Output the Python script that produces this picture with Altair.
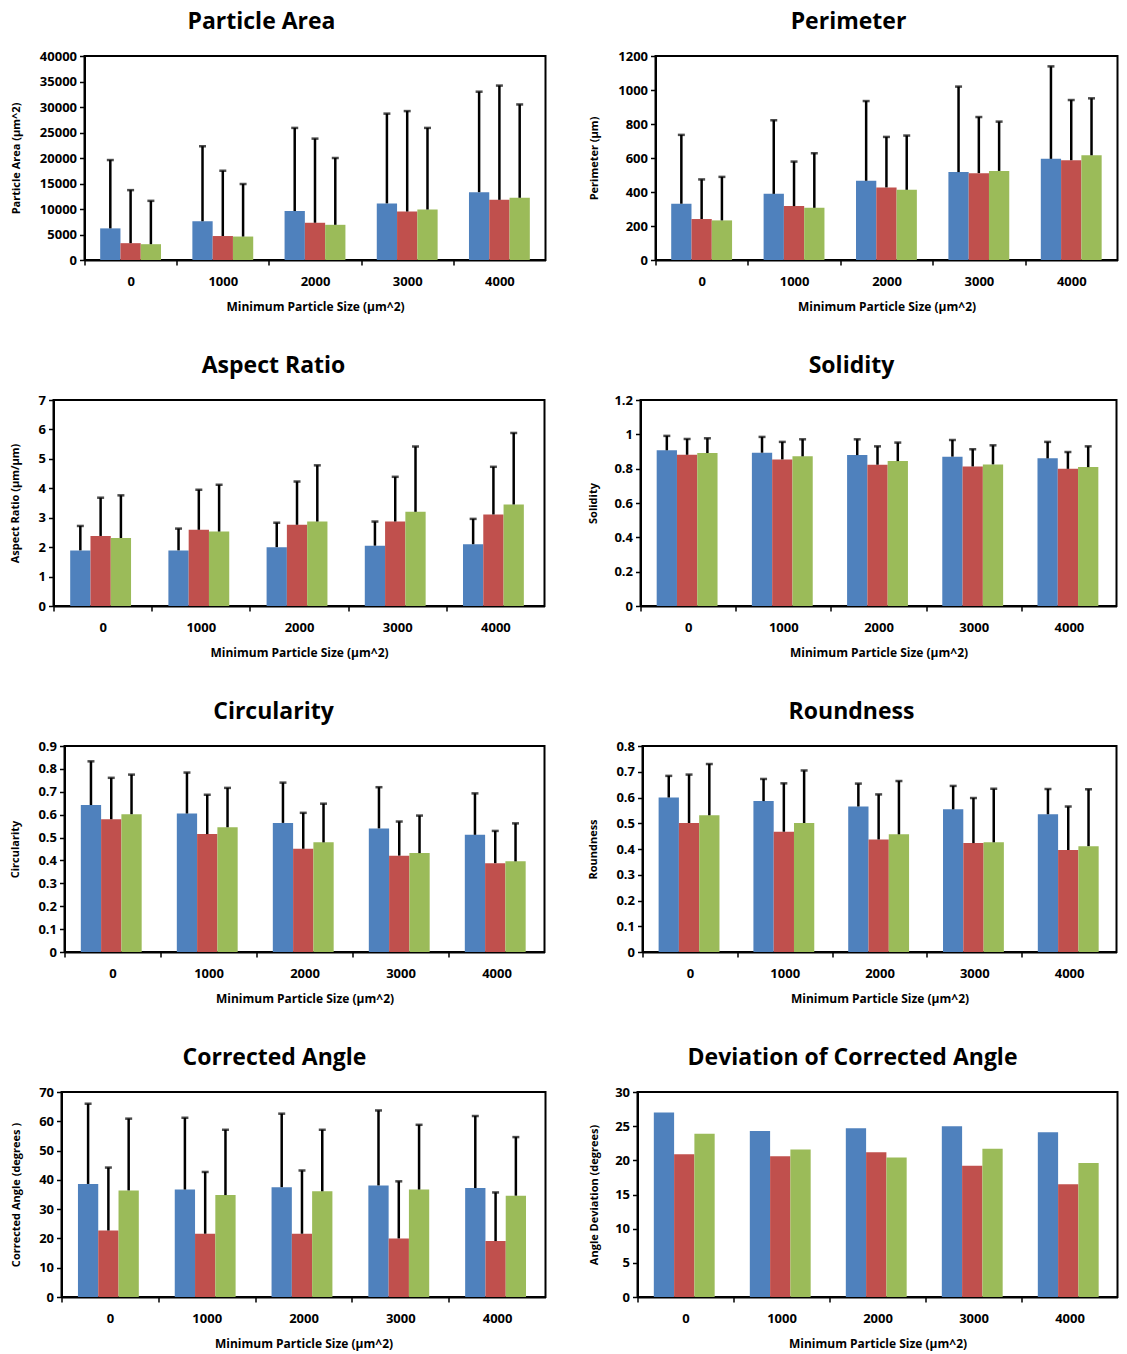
import altair as alt
import pandas as pd

CATEGORIES = ["0", "1000", "2000", "3000", "4000"]
SERIES = ["Series 1", "Series 2", "Series 3"]
SERIES_COLORS = ["#4F81BD", "#C0504D", "#9BBB59"]
X_TITLE = "Minimum Particle Size (µm^2)"

# ---- Particle Area ----
area_blue = [6200, 7600, 9600, 11100, 13300]
area_red = [3300, 4700, 7300, 9500, 11800]
area_green = [3100, 4600, 6900, 9900, 12200]
area_blue_sd = [13400, 14700, 16300, 17600, 19700]
area_red_sd = [10400, 12800, 16500, 19700, 22400]
area_green_sd = [8500, 10300, 13100, 16000, 18300]
area_ticks = [0, 5000, 10000, 15000, 20000, 25000, 30000, 35000, 40000]

# ---- Perimeter ----
perim_blue = [331, 389, 466, 517, 595]
perim_red = [241, 317, 427, 511, 587]
perim_green = [233, 307, 413, 524, 616]
perim_blue_sd = [405, 433, 469, 503, 544]
perim_red_sd = [233, 262, 297, 330, 354]
perim_green_sd = [256, 321, 319, 290, 335]
perim_ticks = [0, 200, 400, 600, 800, 1000, 1200]

# ---- Aspect Ratio ----
ar_blue = [1.89, 1.89, 2.0, 2.05, 2.1]
ar_red = [2.38, 2.59, 2.76, 2.87, 3.11]
ar_green = [2.31, 2.53, 2.87, 3.2, 3.45]
ar_blue_sd = [0.83, 0.74, 0.83, 0.82, 0.86]
ar_red_sd = [1.30, 1.36, 1.47, 1.52, 1.62]
ar_green_sd = [1.45, 1.59, 1.91, 2.22, 2.43]
ar_ticks = [0, 1, 2, 3, 4, 5, 6, 7]

# ---- Solidity ----
sol_blue = [0.907, 0.893, 0.879, 0.870, 0.860]
sol_red = [0.881, 0.854, 0.823, 0.813, 0.799]
sol_green = [0.891, 0.872, 0.844, 0.825, 0.809]
sol_blue_sd = [0.084, 0.092, 0.092, 0.097, 0.096]
sol_red_sd = [0.092, 0.102, 0.107, 0.100, 0.098]
sol_green_sd = [0.086, 0.099, 0.108, 0.111, 0.121]
sol_ticks = [0, 0.2, 0.4, 0.6, 0.8, 1, 1.2]

# ---- Circularity ----
circ_blue = [0.642, 0.605, 0.564, 0.540, 0.512]
circ_red = [0.580, 0.515, 0.451, 0.421, 0.388]
circ_green = [0.602, 0.545, 0.479, 0.432, 0.396]
circ_blue_sd = [0.191, 0.179, 0.176, 0.180, 0.181]
circ_red_sd = [0.181, 0.172, 0.157, 0.149, 0.141]
circ_green_sd = [0.173, 0.172, 0.169, 0.164, 0.166]
circ_ticks = [0, 0.1, 0.2, 0.3, 0.4, 0.5, 0.6, 0.7, 0.8, 0.9]

# ---- Roundness ----
round_blue = [0.600, 0.586, 0.565, 0.554, 0.535]
round_red = [0.501, 0.467, 0.437, 0.423, 0.396]
round_green = [0.531, 0.501, 0.457, 0.426, 0.411]
round_blue_sd = [0.084, 0.086, 0.089, 0.091, 0.098]
round_red_sd = [0.188, 0.188, 0.175, 0.175, 0.169]
round_green_sd = [0.199, 0.204, 0.207, 0.208, 0.221]
round_ticks = [0, 0.1, 0.2, 0.3, 0.4, 0.5, 0.6, 0.7, 0.8]

# ---- Corrected Angle ----
ang_blue = [38.6, 36.7, 37.5, 38.1, 37.2]
ang_red = [22.7, 21.6, 21.6, 20.0, 19.1]
ang_green = [36.4, 34.8, 36.1, 36.7, 34.6]
ang_blue_sd = [27.4, 24.5, 25.1, 25.6, 24.6]
ang_red_sd = [21.5, 21.1, 21.6, 19.5, 16.6]
ang_green_sd = [24.5, 22.3, 21.0, 22.1, 20.0]
ang_ticks = [0, 10, 20, 30, 40, 50, 60, 70]

# ---- Deviation of Corrected Angle ----
dev_blue = [27.0, 24.3, 24.7, 25.0, 24.1]
dev_red = [20.9, 20.6, 21.2, 19.2, 16.5]
dev_green = [23.9, 21.6, 20.4, 21.7, 19.6]
dev_ticks = [0, 5, 10, 15, 20, 25, 30]

FONT = "Open Sans"
HSPACE = 41
SPACER_W = 1


def make_panel(title, ytitle, means, sds, ticks, plot_left, width, height,
               title_center, ytitle_x):
    rows = []
    for si, s in enumerate(SERIES):
        for ci, c in enumerate(CATEGORIES):
            r = {"category": c, "series": s, "mean": means[si][ci]}
            if sds is not None:
                r["upper"] = means[si][ci] + sds[si][ci]
            rows.append(r)
    df = pd.DataFrame(rows)

    step = width / len(CATEGORIES)
    yscale = alt.Scale(domain=[ticks[0], ticks[-1]], nice=False, zero=True)
    yaxis = alt.Axis(
        values=ticks, format="~r", grid=False,
        tickSize=5, tickWidth=1.5, tickColor="black",
        domainColor="black", domainWidth=2,
        labelFont=FONT, labelFontSize=13, labelFontWeight="bold",
        labelColor="black", labelPadding=3,
        title=ytitle, titleFont=FONT, titleFontSize=11,
        titleFontWeight="bold", titleColor="black",
        titleX=ytitle_x - plot_left, titleY=height / 2,
        titleBaseline="middle",
    )
    xaxis = alt.Axis(
        title=X_TITLE, labelAngle=0,
        tickOffset=-step / 2, labelOffset=step / 2,
        tickSize=5, tickWidth=1.5, tickColor="black",
        domainColor="black", domainWidth=2,
        labelFont=FONT, labelFontSize=13, labelFontWeight="bold",
        labelColor="black", labelPadding=10,
        titleFont=FONT, titleFontSize=12, titleFontWeight="bold",
        titleColor="black", titlePadding=13,
    )
    x = alt.X("category:N", sort=CATEGORIES,
              scale=alt.Scale(domain=CATEGORIES, paddingInner=0.34,
                              paddingOuter=0.17),
              axis=xaxis)
    xo = alt.XOffset("series:N", sort=SERIES,
                     scale=alt.Scale(domain=SERIES, paddingInner=0,
                                     paddingOuter=0))

    bars = alt.Chart(df).mark_bar().encode(
        x=x, xOffset=xo,
        y=alt.Y("mean:Q", scale=yscale, axis=yaxis),
        color=alt.Color("series:N",
                        scale=alt.Scale(domain=SERIES, range=SERIES_COLORS),
                        legend=None),
    )
    layers = [bars]
    if sds is not None:
        rule = alt.Chart(df).mark_rule(color="black", strokeWidth=2.5).encode(
            x=x, xOffset=xo,
            y=alt.Y("mean:Q", scale=yscale, axis=yaxis),
            y2="upper:Q",
        )
        cap = alt.Chart(df).mark_tick(color="black", thickness=2.5,
                                      size=7).encode(
            x=x, xOffset=xo,
            y=alt.Y("upper:Q", scale=yscale, axis=yaxis),
        )
        layers += [rule, cap]

    dx = title_center - (plot_left + width / 2)
    return alt.layer(*layers).properties(
        width=width, height=height,
        title=alt.TitleParams(text=title, font=FONT, fontSize=23,
                              fontWeight="bold", color="black",
                              anchor="middle", frame="group", dx=dx,
                              offset=16),
    )


def spacer():
    # empty, invisible first cell so each row is packed by its own bounds
    return alt.Chart(pd.DataFrame({"v": [0]})).mark_point(opacity=0).encode(
        x=alt.value(0), y=alt.value(0)
    ).properties(width=SPACER_W, height=1,
                 view=alt.ViewBackground(stroke="transparent",
                                         fill="transparent"))


p1 = make_panel("Particle Area", "Particle Area (µm^2)",
                [area_blue, area_red, area_green],
                [area_blue_sd, area_red_sd, area_green_sd],
                area_ticks, 85, 461, 204, 262, 17)
p2 = make_panel("Perimeter", "Perimeter (µm)",
                [perim_blue, perim_red, perim_green],
                [perim_blue_sd, perim_red_sd, perim_green_sd],
                perim_ticks, 655, 462, 204, 848, 594)
p3 = make_panel("Aspect Ratio", "Aspect Ratio (µm/µm)",
                [ar_blue, ar_red, ar_green],
                [ar_blue_sd, ar_red_sd, ar_green_sd],
                ar_ticks, 55, 491, 206, 275, 17)
p4 = make_panel("Solidity", "Solidity",
                [sol_blue, sol_red, sol_green],
                [sol_blue_sd, sol_red_sd, sol_green_sd],
                sol_ticks, 641, 476, 206, 852, 594)
p5 = make_panel("Circularity", "Circularity",
                [circ_blue, circ_red, circ_green],
                [circ_blue_sd, circ_red_sd, circ_green_sd],
                circ_ticks, 66, 480, 206, 275, 17)
p6 = make_panel("Roundness", "Roundness",
                [round_blue, round_red, round_green],
                [round_blue_sd, round_red_sd, round_green_sd],
                round_ticks, 643, 474, 206, 852, 594)
p7 = make_panel("Corrected Angle", "Corrected Angle (degrees )",
                [ang_blue, ang_red, ang_green],
                [ang_blue_sd, ang_red_sd, ang_green_sd],
                ang_ticks, 62, 484, 205, 275, 17)
p8 = make_panel("Deviation of Corrected Angle", "Angle Deviation (degrees)",
                [dev_blue, dev_red, dev_green], None,
                dev_ticks, 637, 480, 205, 852, 594)

chart = alt.vconcat(
    alt.hconcat(spacer(), p1, p2, spacing=HSPACE),
    alt.hconcat(spacer(), p3, p4, spacing=HSPACE),
    alt.hconcat(spacer(), p5, p6, spacing=HSPACE),
    alt.hconcat(spacer(), p7, p8, spacing=HSPACE),
    spacing=41,
).properties(
    padding={"left": 3.5 - (SPACER_W + HSPACE) - 10, "top": 2, "right": 0,
             "bottom": 2},
    background="white",
).configure(font=FONT).configure_view(stroke="black", strokeWidth=2,
                                      fill="white")

chart.save("out.html", embed_options={"renderer": "svg", "actions": False})
